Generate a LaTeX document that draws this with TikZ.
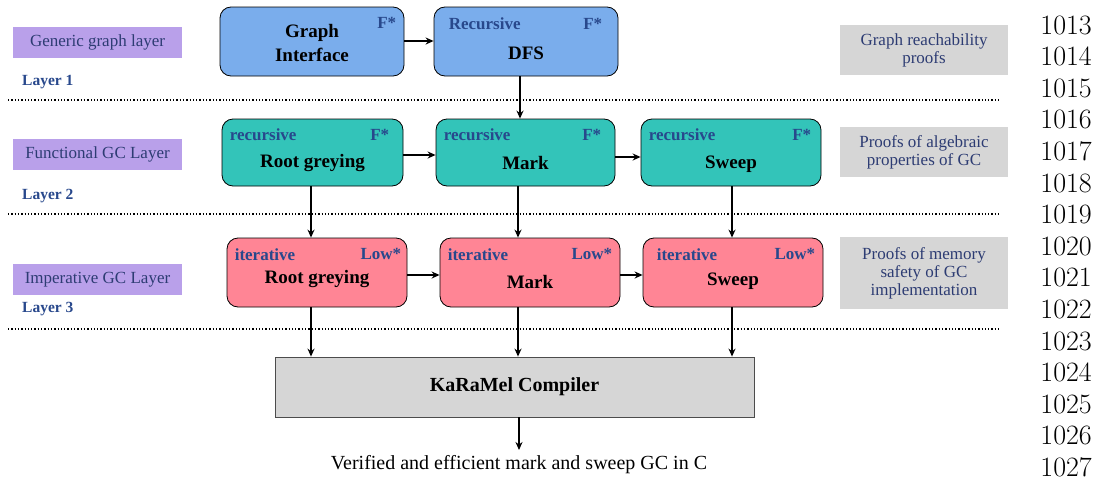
\documentclass[tikz,border=0pt]{standalone}
\usepackage{fontspec}
\newfontfamily\diag{Liberation Serif}
\usetikzlibrary{arrows.meta,calc}
\definecolor{fstarblue}{RGB}{122,173,236}
\definecolor{funteal}{RGB}{51,196,185}
\definecolor{lowpink}{RGB}{255,133,149}
\definecolor{layerpurple}{RGB}{185,160,234}
\definecolor{proofgray}{RGB}{214,214,214}
\definecolor{tagblue}{RGB}{40,72,140}
\definecolor{notenavy}{RGB}{45,60,115}
\tikzset{
  box/.style={draw=black, line width=0.8pt, rounded corners=11pt, minimum width=182pt, minimum height=68pt, inner sep=0pt},
  mainlbl/.style={font=\diag\fontsize{19}{22}\selectfont\bfseries, align=center, text=black},
  taglbl/.style={font=\diag\fontsize{17}{19}\selectfont\bfseries, text=tagblue, inner sep=0pt},
  layerbox/.style={fill=layerpurple, minimum width=169pt, minimum height=31pt, inner sep=0pt, font=\diag\fontsize{17}{20}\selectfont, text=notenavy},
  layertag/.style={font=\diag\fontsize{15.5}{18}\selectfont\bfseries, text=tagblue, anchor=west, inner sep=0pt},
  proofbox/.style={fill=proofgray, minimum width=168pt, inner sep=3pt, font=\diag\fontsize{17}{20}\selectfont, text=notenavy, align=center},
  flow/.style={-{Stealth[length=8pt,width=7pt]}, line width=1.3pt},
  sep/.style={dotted, line width=1.3pt},
  lineno/.style={font=\fontsize{28}{30}\selectfont, anchor=east, inner sep=0pt}
}
\begin{document}
\begin{tikzpicture}[x=1pt,y=-1pt]
\useasboundingbox (0,0) rectangle (1099,479);

% layer names on the left
\node[layerbox] (l1) at (97.5,42.5) {Generic graph layer};
\node[layerbox] (l2) at (97.5,154.5) {Functional GC Layer};
\node[layerbox] (l3) at (97.5,279.5) {Imperative GC Layer};
\node[layertag] (t1) at (22,82) {Layer 1};
\node[layertag] (t2) at (22,196) {Layer 2};
\node[layertag] (t3) at (22,309) {Layer 3};

% layer separators
\draw[sep] (8,100) -- (1000,100);
\draw[sep] (8,214) -- (1000,214);
\draw[sep] (8,329) -- (1000,329);

% layer 1: generic graph
\node[box, fill=fstarblue, minimum width=184pt, minimum height=69pt] (gi) at (312,41.5) {};
\node[mainlbl] (gilbl) at (312,43) {Graph\\[2pt]Interface};
\node[taglbl, anchor=east] (gif) at ($(gi.north east)+(-8,16)$) {F*};
\node[box, fill=fstarblue, minimum width=184pt, minimum height=69pt] (dfs) at (526,41.5) {};
\node[mainlbl] (dfslbl) at (526,53) {DFS};
\node[taglbl, anchor=west] (dfsr) at ($(dfs.north west)+(15,17)$) {Recursive};
\node[taglbl, anchor=east] (dfsf) at ($(dfs.north east)+(-16,17)$) {F*};

% layer 2: functional GC
\node[box, fill=funteal, minimum width=181pt, minimum height=67pt] (frg) at (312.5,152.5) {};
\node[mainlbl] (frglbl) at (312.5,163) {Root greying};
\node[taglbl, anchor=west] (frgr) at ($(frg.north west)+(8,16)$) {recursive};
\node[taglbl, anchor=east] (frgf) at ($(frg.north east)+(-14,16)$) {F*};
\node[box, fill=funteal, minimum width=179pt, minimum height=67pt] (fmk) at (525.5,152.5) {};
\node[mainlbl] (fmklbl) at (525.5,163) {Mark};
\node[taglbl, anchor=west] (fmkr) at ($(fmk.north west)+(8,16)$) {recursive};
\node[taglbl, anchor=east] (fmkf) at ($(fmk.north east)+(-14,16)$) {F*};
\node[box, fill=funteal, minimum width=180pt, minimum height=67pt] (fsw) at (731,152.5) {};
\node[mainlbl] (fswlbl) at (731,164) {Sweep};
\node[taglbl, anchor=west] (fswr) at ($(fsw.north west)+(8,16)$) {recursive};
\node[taglbl, anchor=east] (fswf) at ($(fsw.north east)+(-10,16)$) {F*};

% layer 3: imperative GC
\node[box, fill=lowpink, minimum width=180pt, minimum height=69pt] (irg) at (317,272.5) {};
\node[mainlbl] (irglbl) at (317,279) {Root greying};
\node[taglbl, anchor=west] (irgi) at ($(irg.north west)+(8,17)$) {iterative};
\node[taglbl, anchor=east] (irgl) at ($(irg.north east)+(-6,16)$) {Low*};
\node[box, fill=lowpink, minimum width=180pt, minimum height=69pt] (imk) at (530,272.5) {};
\node[mainlbl] (imklbl) at (530,282) {Mark};
\node[taglbl, anchor=west] (imki) at ($(imk.north west)+(8,17)$) {iterative};
\node[taglbl, anchor=east] (imkl) at ($(imk.north east)+(-8,16)$) {Low*};
\node[box, fill=lowpink, minimum width=180pt, minimum height=69pt] (isw) at (733,272.5) {};
\node[mainlbl] (iswlbl) at (733,281) {Sweep};
\node[taglbl, anchor=west] (iswi) at ($(isw.north west)+(14,17)$) {iterative};
\node[taglbl, anchor=east] (iswl) at ($(isw.north east)+(-8,16)$) {Low*};

% compiler and output
\node[draw=black!70, line width=0.8pt, fill=proofgray, minimum width=479pt, minimum height=60pt, font=\diag\fontsize{20}{23}\selectfont\bfseries] (krml) at (514.5,387) {KaRaMel Compiler};
\node[font=\diag\fontsize{20}{23}\selectfont, anchor=north, inner sep=0pt] (out) at (519,455) {Verified and efficient mark and sweep GC in C};

% proof notes on the right
\node[proofbox, minimum height=50pt] (p1) at (924,50) {Graph reachability\\[-2pt]proofs};
\node[proofbox, minimum height=50pt] (p2) at (924,152) {Proofs of algebraic\\[-2pt]properties of GC};
\node[proofbox, minimum height=72pt] (p3) at (924,273) {Proofs of memory\\[-2pt]safety of GC\\[-2pt]implementation};

% connectors
\draw[flow] (gi.east |- 0,41) -- (dfs.west |- 0,41);
\draw[flow] (520,0 |- dfs.south) -- (520,0 |- fmk.north);
\draw[flow] (frg.east |- 0,155) -- (fmk.west |- 0,155);
\draw[flow] (fmk.east |- 0,157) -- (fsw.west |- 0,157);
\draw[flow] (311,0 |- frg.south) -- (311,0 |- irg.north);
\draw[flow] (518,0 |- fmk.south) -- (518,0 |- imk.north);
\draw[flow] (732,0 |- fsw.south) -- (732,0 |- isw.north);
\draw[flow] (irg.east |- 0,275) -- (imk.west |- 0,275);
\draw[flow] (imk.east |- 0,275) -- (isw.west |- 0,275);
\draw[flow] (311,0 |- irg.south) -- (311,0 |- krml.north);
\draw[flow] (518,0 |- imk.south) -- (518,0 |- krml.north);
\draw[flow] (732,0 |- isw.south) -- (732,0 |- krml.north);
\draw[flow] (519,0 |- krml.south) -- (519,450);

% margin line numbers
\foreach \n [count=\i from 0] in {1013,...,1027}
  \node[lineno] (ln\n) at (1092,{25+31.6*\i}) {\n};
\end{tikzpicture}
\end{document}
